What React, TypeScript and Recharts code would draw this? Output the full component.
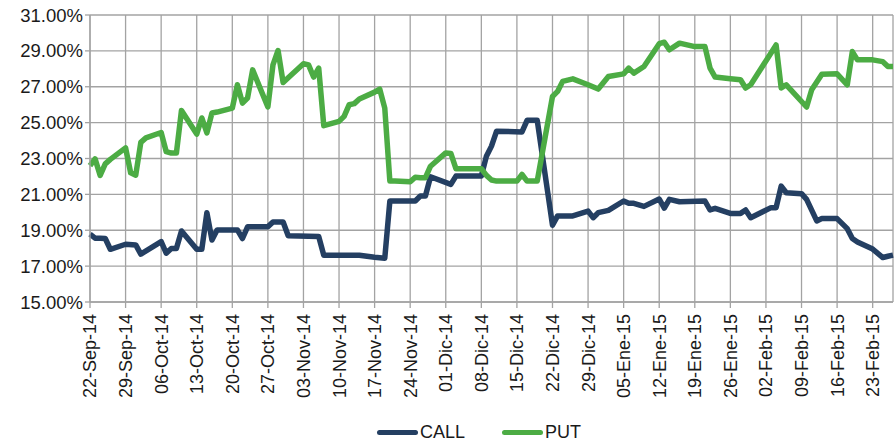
import { LineChart, Line, XAxis, YAxis, CartesianGrid } from 'recharts';

const START = Date.UTC(2014, 8, 22);

const xTickLabels = [
  '22-Sep-14', '29-Sep-14', '06-Oct-14', '13-Oct-14', '20-Oct-14', '27-Oct-14',
  '03-Nov-14', '10-Nov-14', '17-Nov-14', '24-Nov-14', '01-Dic-14', '08-Dic-14',
  '15-Dic-14', '22-Dic-14', '29-Dic-14', '05-Ene-15', '12-Ene-15', '19-Ene-15',
  '26-Ene-15', '02-Feb-15', '09-Feb-15', '16-Feb-15', '23-Feb-15',
];

const yTicks = [15, 17, 19, 21, 23, 25, 27, 29, 31];

const callDates = [
  '2014-09-22', '2014-09-23', '2014-09-24', '2014-09-25', '2014-09-26', '2014-09-29',
  '2014-10-01', '2014-10-02', '2014-10-06', '2014-10-07', '2014-10-08', '2014-10-09',
  '2014-10-10', '2014-10-13', '2014-10-14', '2014-10-15', '2014-10-16', '2014-10-17',
  '2014-10-21', '2014-10-22', '2014-10-23', '2014-10-27', '2014-10-28', '2014-10-30',
  '2014-10-31', '2014-11-06', '2014-11-07', '2014-11-14', '2014-11-17', '2014-11-19',
  '2014-11-20', '2014-11-25', '2014-11-26', '2014-11-27', '2014-11-28', '2014-12-02',
  '2014-12-03', '2014-12-08', '2014-12-09', '2014-12-10', '2014-12-11', '2014-12-16',
  '2014-12-17', '2014-12-19', '2014-12-22', '2014-12-23', '2014-12-26', '2014-12-29',
  '2014-12-30', '2014-12-31', '2015-01-02', '2015-01-05', '2015-01-06', '2015-01-07',
  '2015-01-09', '2015-01-12', '2015-01-13', '2015-01-14', '2015-01-16', '2015-01-21',
  '2015-01-22', '2015-01-23', '2015-01-26', '2015-01-28', '2015-01-29', '2015-01-30',
  '2015-02-03', '2015-02-04', '2015-02-05', '2015-02-06', '2015-02-09', '2015-02-10',
  '2015-02-12', '2015-02-13', '2015-02-16', '2015-02-18', '2015-02-19', '2015-02-20',
  '2015-02-23', '2015-02-25', '2015-02-26', '2015-02-27',
];
const callValues = [
  18.78, 18.56, 18.55, 18.54, 17.94, 18.22,
  18.18, 17.67, 18.37, 17.72, 17.98, 17.98,
  18.96, 17.94, 17.94, 19.98, 18.46, 19.02,
  19.02, 18.54, 19.19, 19.19, 19.46, 19.46,
  18.69, 18.65, 17.61, 17.61, 17.5, 17.44,
  20.63, 20.63, 20.91, 20.91, 21.98, 21.56,
  22.02, 22.02, 23.13, 23.69, 24.52, 24.48,
  25.13, 25.13, 19.28, 19.8, 19.8, 20.07,
  19.7, 19.98, 20.11, 20.63, 20.5, 20.5,
  20.33, 20.74, 20.23, 20.72, 20.59, 20.63,
  20.13, 20.22, 19.94, 19.94, 20.13, 19.7,
  20.26, 20.26, 21.46, 21.09, 21.04, 20.72,
  19.52, 19.65, 19.65, 19.09, 18.54, 18.35,
  17.95, 17.48, 17.55, 17.61,
];

const putDates = [
  '2014-09-22', '2014-09-23', '2014-09-24', '2014-09-25', '2014-09-26', '2014-09-29',
  '2014-09-30', '2014-10-01', '2014-10-02', '2014-10-03', '2014-10-06', '2014-10-07',
  '2014-10-08', '2014-10-09', '2014-10-10', '2014-10-13', '2014-10-14', '2014-10-15',
  '2014-10-16', '2014-10-17', '2014-10-20', '2014-10-21', '2014-10-22', '2014-10-23',
  '2014-10-24', '2014-10-27', '2014-10-28', '2014-10-29', '2014-10-30', '2014-10-31',
  '2014-11-03', '2014-11-04', '2014-11-05', '2014-11-06', '2014-11-07', '2014-11-10',
  '2014-11-11', '2014-11-12', '2014-11-13', '2014-11-14', '2014-11-17', '2014-11-18',
  '2014-11-19', '2014-11-20', '2014-11-21', '2014-11-24', '2014-11-25', '2014-11-26',
  '2014-11-27', '2014-11-28', '2014-12-01', '2014-12-02', '2014-12-03', '2014-12-04',
  '2014-12-05', '2014-12-08', '2014-12-09', '2014-12-10', '2014-12-11', '2014-12-15',
  '2014-12-16', '2014-12-17', '2014-12-19', '2014-12-22', '2014-12-23', '2014-12-24',
  '2014-12-26', '2014-12-29', '2014-12-31', '2015-01-02', '2015-01-05', '2015-01-06',
  '2015-01-07', '2015-01-09', '2015-01-12', '2015-01-13', '2015-01-14', '2015-01-16',
  '2015-01-19', '2015-01-21', '2015-01-22', '2015-01-23', '2015-01-26', '2015-01-28',
  '2015-01-29', '2015-01-30', '2015-02-04', '2015-02-05', '2015-02-06', '2015-02-10',
  '2015-02-11', '2015-02-13', '2015-02-16', '2015-02-18', '2015-02-19', '2015-02-20',
  '2015-02-23', '2015-02-25', '2015-02-26', '2015-02-27',
];
const putValues = [
  22.6, 22.98, 22.06, 22.7, 22.95, 23.59,
  22.2, 22.07, 23.9, 24.15, 24.45, 23.38,
  23.3, 23.3, 25.68, 24.36, 25.26, 24.43,
  25.54, 25.59, 25.81, 27.11, 26.09, 26.37,
  27.94, 25.87, 28.22, 29.02, 27.24, 27.5,
  28.28, 28.22, 27.54, 28.04, 24.83, 25.07,
  25.35, 26.0, 26.06, 26.32, 26.7, 26.87,
  25.81, 21.74, 21.74, 21.7, 21.96, 21.93,
  21.93, 22.57, 23.31, 23.28, 22.43, 22.43,
  22.43, 22.43, 22.06, 21.8, 21.74, 21.74,
  22.11, 21.74, 21.74, 26.46, 26.74, 27.3,
  27.44, 27.11, 26.87, 27.57, 27.72, 28.04,
  27.76, 28.13, 29.4, 29.48, 29.06, 29.43,
  29.24, 29.24, 28.04, 27.54, 27.45, 27.39,
  26.93, 27.11, 29.33, 26.93, 27.11, 25.87,
  26.83, 27.7, 27.72, 27.11, 28.96, 28.5,
  28.5, 28.4, 28.13, 28.13,
];

const CALL_COLOR = '#243f62';
const PUT_COLOR = '#4cac44';
const FONT = '"Liberation Sans", Arial, sans-serif';

function dayOf(iso: string): number {
  const [y, m, d] = iso.split('-').map(Number);
  return Math.round((Date.UTC(y, m - 1, d) - START) / 86400000);
}

// merge both series on a calendar-day axis (gaps bridged with connectNulls)
const rows = new Map<number, { day: number; call?: number; put?: number }>();
callDates.forEach((d, i) => {
  const day = dayOf(d);
  rows.set(day, { ...(rows.get(day) || { day }), call: callValues[i] });
});
putDates.forEach((d, i) => {
  const day = dayOf(d);
  rows.set(day, { ...(rows.get(day) || { day }), put: putValues[i] });
});
const chartData = Array.from(rows.values()).sort((a, b) => a.day - b.day);

const xTicks = xTickLabels.map((_, i) => i * 7);

function DateTick(props: any) {
  const { x, y, payload } = props;
  const label = xTickLabels[Math.round(payload.value / 7)] ?? '';
  const ty = y + 4;
  return (
    <text
      x={x}
      y={ty}
      dy="0.36em"
      transform={`rotate(-90, ${x}, ${ty})`}
      textAnchor="end"
      fontSize={18}
      fontFamily={FONT}
      fill="#1a1a1a"
    >
      {label}
    </text>
  );
}

function LegendItem({ color, label, left }: { color: string; label: string; left: number }) {
  return (
    <div style={{ position: 'absolute', left, top: 421, display: 'flex', alignItems: 'center' }}>
      <div style={{ width: 41, height: 5, borderRadius: 3, background: color, marginRight: 2 }} />
      <span style={{ fontFamily: FONT, fontSize: 18, color: '#1a1a1a', lineHeight: '22px' }}>{label}</span>
    </div>
  );
}

export default function App() {
  return (
    <div style={{ position: 'absolute', left: 0, top: 0, width: 895, height: 445, background: '#fff' }}>
      <LineChart width={895} height={445} data={chartData} margin={{ top: 15, right: 2, left: 0, bottom: 0 }}>
        <CartesianGrid stroke="#a3a3a3" strokeWidth={1.3} />
        <XAxis
          type="number"
          dataKey="day"
          domain={[0, 158]}
          ticks={xTicks}
          interval={0}
          height={143}
          stroke="#a3a3a3"
          strokeWidth={1.3}
          tickSize={6}
          tick={<DateTick />}
        />
        <YAxis
          type="number"
          domain={[15, 31]}
          ticks={yTicks}
          interval={0}
          width={90}
          stroke="#a3a3a3"
          strokeWidth={1.3}
          tickSize={5}
          tick={{ fontSize: 18.5, fontFamily: FONT, fill: '#1a1a1a' }}
          tickFormatter={(v) => `${v.toFixed(2)}%`}
        />
        <Line
          dataKey="call"
          stroke={CALL_COLOR}
          strokeWidth={5.5}
          strokeLinejoin="round"
          dot={false}
          connectNulls
          isAnimationActive={false}
        />
        <Line
          dataKey="put"
          stroke={PUT_COLOR}
          strokeWidth={5.5}
          strokeLinejoin="round"
          dot={false}
          connectNulls
          isAnimationActive={false}
        />
      </LineChart>
      <LegendItem color={CALL_COLOR} label="CALL" left={377} />
      <LegendItem color={PUT_COLOR} label="PUT" left={502} />
    </div>
  );
}
